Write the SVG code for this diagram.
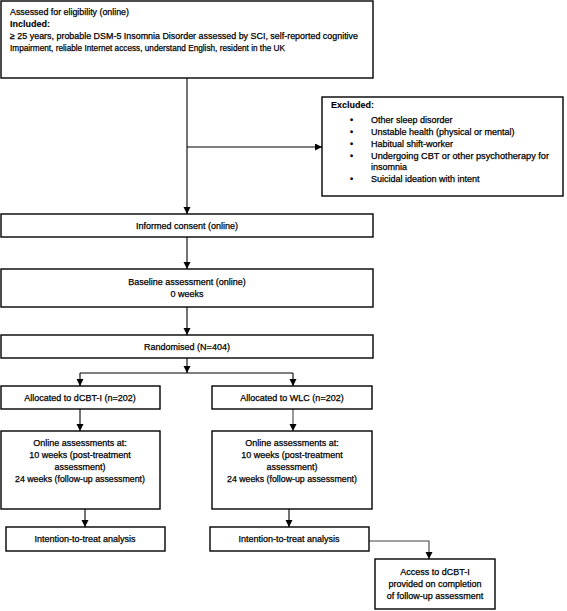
<svg xmlns="http://www.w3.org/2000/svg" width="567" height="611" viewBox="0 0 567 611">
<style>
  .box{fill:#fff;stroke:#000;stroke-width:1.4}
  text{font-family:"Liberation Sans",Arial,sans-serif;font-size:9px;fill:#000;stroke:#000;stroke-width:0.25}
  .c{text-anchor:middle}
  .b{font-weight:bold;stroke-width:0.1}
  .ln{fill:none;stroke:#000;stroke-width:1.1}
  .g{stroke:#444}
</style>
<defs>
  <marker id="ah" markerUnits="userSpaceOnUse" markerWidth="8" markerHeight="8" refX="7" refY="3.5" orient="auto">
    <path d="M0,0 L7,3.5 L0,7 z" fill="#000"/>
  </marker>
</defs>
<rect width="567" height="611" fill="#fff"/>
<g id="connectors">
  <line class="ln" x1="187" y1="78" x2="187" y2="214" marker-end="url(#ah)"/>
  <line class="ln" x1="187" y1="147" x2="322" y2="147" marker-end="url(#ah)"/>
  <line class="ln" x1="187" y1="237" x2="187" y2="269" marker-end="url(#ah)"/>
  <line class="ln" x1="187" y1="307" x2="187" y2="335" marker-end="url(#ah)"/>
  <line class="ln" x1="187" y1="358" x2="187" y2="373" marker-end="url(#ah)"/>
  <line class="ln" x1="80" y1="373" x2="293" y2="373"/>
  <line class="ln" x1="80" y1="373" x2="80" y2="386" marker-end="url(#ah)"/>
  <line class="ln" x1="293" y1="373" x2="293" y2="386" marker-end="url(#ah)"/>
  <line class="ln" x1="80" y1="409" x2="80" y2="431" marker-end="url(#ah)"/>
  <line class="ln g" x1="293" y1="409" x2="293" y2="431" marker-end="url(#ah)"/>
  <line class="ln" x1="85" y1="509" x2="85" y2="527" marker-end="url(#ah)"/>
  <line class="ln" x1="289" y1="509" x2="289" y2="527" marker-end="url(#ah)"/>
  <polyline class="ln g" points="369,541 429,541 429,559" marker-end="url(#ah)"/>
</g>
<g id="eligibility">
  <rect class="box" x="1" y="1" width="372" height="77"/>
  <text x="10" y="15" textLength="119" lengthAdjust="spacingAndGlyphs">Assessed for eligibility (online)</text>
  <text x="10" y="27" class="b">Included:</text>
  <text x="10" y="39" textLength="348" lengthAdjust="spacingAndGlyphs">≥ 25 years, probable DSM-5 Insomnia Disorder assessed by SCI, self-reported cognitive</text>
  <text x="10" y="51" textLength="275" lengthAdjust="spacingAndGlyphs">Impairment, reliable Internet access, understand English, resident in the UK</text>
</g>
<g id="excluded">
  <rect class="box" x="322" y="97" width="241" height="99"/>
  <text x="331" y="108" class="b">Excluded:</text>
  <text x="350" y="123">•</text><text x="371" y="123">Other sleep disorder</text>
  <text x="350" y="135">•</text><text x="371" y="135">Unstable health (physical or mental)</text>
  <text x="350" y="147">•</text><text x="371" y="147">Habitual shift-worker</text>
  <text x="350" y="159">•</text><text x="371" y="159" textLength="178" lengthAdjust="spacingAndGlyphs">Undergoing CBT or other psychotherapy for</text>
  <text x="371" y="170">insomnia</text>
  <text x="350" y="182">•</text><text x="371" y="182">Suicidal ideation with intent</text>
</g>
<g id="consent">
  <rect class="box" x="1" y="214" width="372" height="23"/>
  <text x="187" y="229" class="c">Informed consent (online)</text>
</g>
<g id="baseline">
  <rect class="box" x="1" y="269" width="372" height="38"/>
  <text x="187" y="285" class="c">Baseline assessment (online)</text>
  <text x="187" y="297" class="c">0 weeks</text>
</g>
<g id="randomised">
  <rect class="box" x="1" y="335" width="372" height="23"/>
  <text x="187" y="350" class="c">Randomised (N=404)</text>
</g>
<g id="alloc-dcbt">
  <rect class="box" x="1" y="386" width="159" height="23"/>
  <text x="80" y="401" class="c">Allocated to dCBT-I (n=202)</text>
</g>
<g id="alloc-wlc">
  <rect class="box" x="212" y="386" width="160" height="23"/>
  <text x="292" y="401" class="c">Allocated to WLC (n=202)</text>
</g>
<g id="online-dcbt">
  <rect class="box" x="1" y="431" width="159" height="78"/>
  <text x="80" y="446" class="c">Online assessments at:</text>
  <text x="80" y="458" class="c">10 weeks (post-treatment</text>
  <text x="80" y="470" class="c">assessment)</text>
  <text x="80" y="482" class="c" textLength="130" lengthAdjust="spacingAndGlyphs">24 weeks (follow-up assessment)</text>
</g>
<g id="online-wlc">
  <rect class="box" x="212" y="431" width="160" height="78"/>
  <text x="292" y="446" class="c">Online assessments at:</text>
  <text x="292" y="458" class="c">10 weeks (post-treatment</text>
  <text x="292" y="470" class="c">assessment)</text>
  <text x="292" y="482" class="c" textLength="130" lengthAdjust="spacingAndGlyphs">24 weeks (follow-up assessment)</text>
</g>
<g id="itt-dcbt">
  <rect class="box" x="6" y="527" width="159" height="24"/>
  <text x="85" y="542" class="c">Intention-to-treat analysis</text>
</g>
<g id="itt-wlc">
  <rect class="box" x="210" y="527" width="159" height="24"/>
  <text x="289" y="542" class="c">Intention-to-treat analysis</text>
</g>
<g id="access">
  <rect class="box" x="375" y="559" width="120" height="50"/>
  <text x="435" y="575" class="c">Access to dCBT-I</text>
  <text x="435" y="587" class="c">provided on completion</text>
  <text x="435" y="599" class="c">of follow-up assessment</text>
</g>
</svg>
